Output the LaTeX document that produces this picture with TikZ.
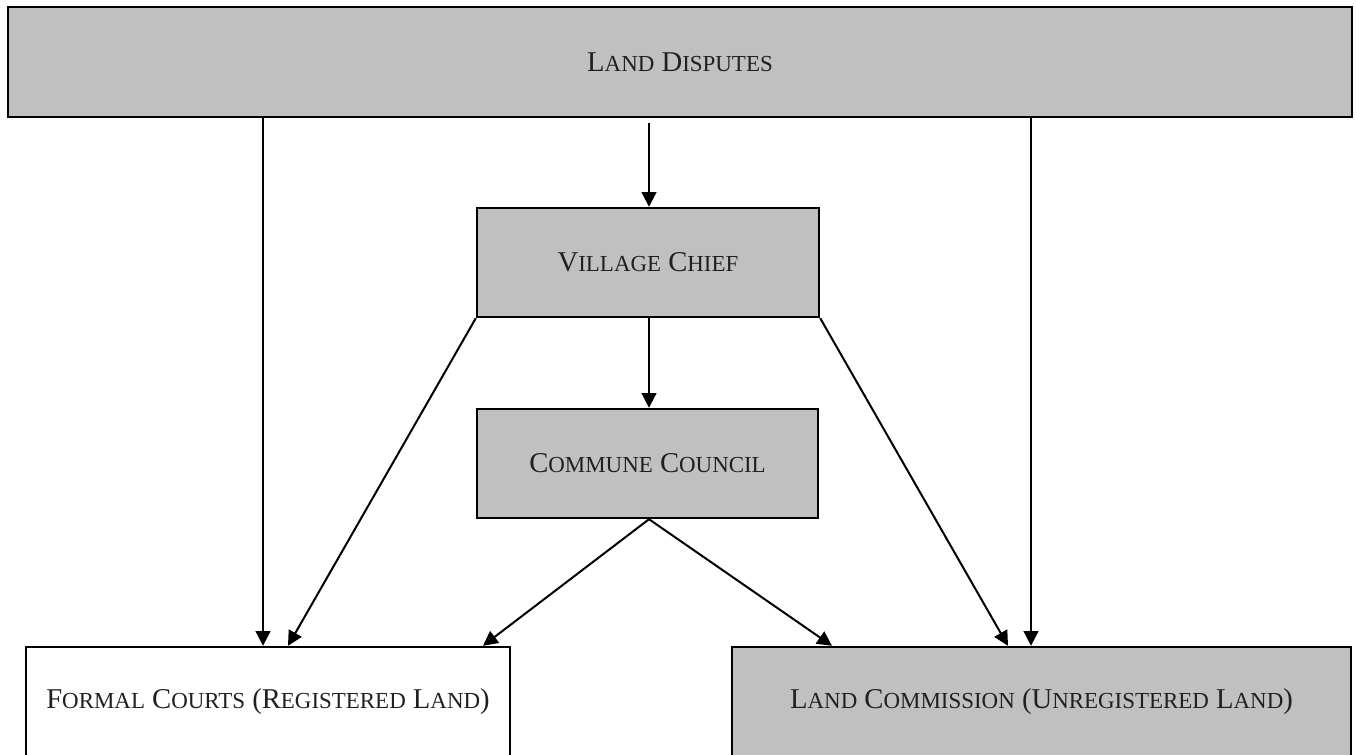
\documentclass[tikz,border=0pt]{standalone}
\usepackage{fontspec}
\setmainfont{Liberation Serif}
\usetikzlibrary{arrows.meta}
\newcommand\SCap[2]{#1{\fontsize{17.2}{20}\selectfont #2}}
\definecolor{boxgray}{HTML}{C0C0C0}
\definecolor{txtcol}{HTML}{231F20}
\begin{document}
\begin{tikzpicture}[x=0.75pt,y=-0.75pt,
  box/.style={draw=black,line width=1.8pt,fill=boxgray,inner sep=0pt,text=txtcol,align=center,
    font=\fontsize{21.5}{24}\selectfont},
  whitebox/.style={box,fill=white},
  arr/.style={line width=1.5pt,-{Triangle[length=11pt,width=11pt]}}]
\clip (0,0) rectangle (1356,754);
\fill[white] (0,0) rectangle (1356,754);
\node[box,minimum width=1008pt,minimum height=82.5pt] (top) at (680,62) {\SCap{L}{AND} \SCap{D}{ISPUTES}};
\node[box,minimum width=256.5pt,minimum height=81.75pt] (vil) at (648,262.5) {\SCap{V}{ILLAGE} \SCap{C}{HIEF}};
\node[box,minimum width=255.75pt,minimum height=81.75pt] (com) at (647.5,463.5) {\SCap{C}{OMMUNE} \SCap{C}{OUNCIL}};
\node[whitebox,minimum width=363pt,minimum height=82.5pt] (formal) at (268,702) {\SCap{F}{ORMAL} \SCap{C}{OURTS} \SCap{(R}{EGISTERED} \SCap{L}{AND})};
\node[box,minimum width=464.25pt,minimum height=82.5pt] (land) at (1041.5,702) {\SCap{L}{AND} \SCap{C}{OMMISSION} \SCap{(U}{NREGISTERED} \SCap{L}{AND})};
\draw[arr] (top.south -| 263,0) -- (formal.north -| 263,0);
\draw[arr] ([yshift=-3.75pt]top.south -| 649,0) -- (vil.north -| 649,0);
\draw[arr] (top.south -| 1031,0) -- (land.north -| 1031,0);
\draw[arr] (vil.south west) -- (formal.north -| 288,0);
\draw[arr] (vil.south -| 649,0) -- (com.north -| 649,0);
\draw[arr] (vil.south east) -- (land.north -| 1008,0);
\draw[arr] (com.south -| 649,0) -- (formal.north -| 483,0);
\draw[arr] (com.south -| 649,0) -- (land.north -| 832,0);
\end{tikzpicture}
\end{document}
